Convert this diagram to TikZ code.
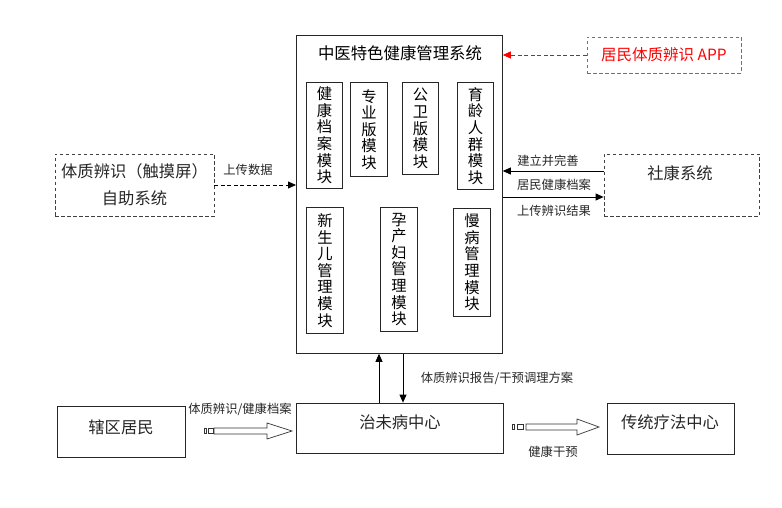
\documentclass[tikz,border=0pt]{standalone}
\usepackage{fontspec}
\newfontfamily\cjk{Noto Sans CJK SC}
\usetikzlibrary{arrows.meta,calc}
\definecolor{appred}{RGB}{240,60,60}
\begin{document}
\begin{tikzpicture}[x=1pt,y=-1pt,
  every node/.style={font=\cjk},
  box/.style={draw=black!85, line width=0.8pt, inner sep=0pt},
  dbox/.style={draw=black!75, line width=0.8pt, dash pattern=on 3.5pt off 2.5pt, inner sep=0pt},
  modbox/.style={draw=black!85, line width=0.8pt, anchor=north west, inner sep=0pt, align=center, font=\cjk\fontsize{15.3}{16.6}\selectfont},
  big/.style={font=\cjk\fontsize{16.3}{27}\selectfont, text=black!85},
  arr/.style={-{Triangle[length=8pt,width=7pt]}, line width=0.8pt},
  lbl/.style={font=\cjk\fontsize{12.3}{13}\selectfont, text=black!85},
  barr/.style={draw=black!80, line width=0.7pt, fill=white}
]
\path[use as bounding box] (0,0) rectangle (782,508);

% main system box
\node[box, minimum width=206pt, minimum height=318pt, anchor=north west] (main) at (296,35) {};
\node[font=\cjk\fontsize{16.4}{18}\selectfont] (title) at (400,53) {中医特色健康管理系统};

% modules
\node[modbox, minimum width=36pt, minimum height=106pt] (m1) at (306,82) {健\\康\\档\\案\\模\\块};
\node[modbox, minimum width=37pt, minimum height=94pt] (m2) at (350,82) {专\\业\\版\\模\\块};
\node[modbox, minimum width=36pt, minimum height=92pt] (m3) at (402,82) {公\\卫\\版\\模\\块};
\node[modbox, minimum width=36pt, minimum height=107pt] (m4) at (457,82) {育\\龄\\人\\群\\模\\块};
\node[modbox, minimum width=37pt, minimum height=126pt] (m5) at (306,207) {新\\生\\儿\\管\\理\\模\\块};
\node[modbox, minimum width=37pt, minimum height=124pt] (m6) at (380,207) {孕\\产\\妇\\管\\理\\模\\块};
\node[modbox, minimum width=37pt, minimum height=108pt] (m7) at (453,208) {慢\\病\\管\\理\\模\\块};

% APP
\node[draw=appred, line width=0.8pt, dash pattern=on 3.5pt off 2.5pt, text=red, minimum width=154pt, minimum height=36pt, font=\cjk\fontsize{15.5}{18}\selectfont] (app) at (664,55) {居民体质辨识 APP};
\draw[arr, red, dash pattern=on 4pt off 2.5pt] (app.west) -- (app.west -| main.east);

% touch screen system
\node[dbox, minimum width=159pt, minimum height=62pt, big, align=center] (touch) at (134.5,185) {体质辨识（触摸屏）\\自助系统};
\draw[arr, dash pattern=on 4pt off 2.5pt] (touch.east) -- (touch.east -| main.west);
\node[lbl] (l1) at (248,170) {上传数据};

% shekang system
\node[dbox, minimum width=155pt, minimum height=62pt] (skang) at (681.5,185) {};
\node[big] (skangt) at (680,173) {社康系统};
\draw[arr] ([yshift=14pt]skang.west) -- ([yshift=14pt]skang.west -| main.east);
\draw[arr] ([yshift=-12pt]skang.west -| main.east) -- ([yshift=-12pt]skang.west);
\node[lbl] (l2) at (548,161) {建立并完善};
\node[lbl] (l3) at (554,185) {居民健康档案};
\node[lbl] (l4) at (554,211) {上传辨识结果};

% bottom row
\node[box, minimum width=128pt, minimum height=51pt] (resid) at (121,431.5) {};
\node[big] (residt) at (121,427) {辖区居民};
\node[box, minimum width=207pt, minimum height=50pt] (zwb) at (399.5,428) {};
\node[big] (zwbt) at (400,422) {治未病中心};
\node[box, minimum width=127pt, minimum height=51pt] (ctlf) at (670.5,428.5) {};
\node[big] (ctlft) at (670,422) {传统疗法中心};

% vertical arrows
\draw[arr] ([xshift=-20.5pt]zwb.north) -- ([xshift=-20.5pt]zwb.north |- main.south);
\draw[arr] ([xshift=3.5pt]zwb.north |- main.south) -- ([xshift=3.5pt]zwb.north);
\node[lbl] (l5) at (497,378) {体质辨识报告/干预调理方案};

% striped block arrow 1
\draw[barr] (204,428.5) rectangle (206,433.5);
\draw[barr] (208,428.5) rectangle (213,433.5);
\draw[barr] (214,428) -- (267,428) -- (267,423) -- (292,431) -- (267,439) -- (267,434) -- (214,434) -- cycle;
\node[lbl] (l6) at (240,409) {体质辨识/健康档案};

% striped block arrow 2
\draw[barr] (512,424.5) rectangle (514,429.5);
\draw[barr] (517,424.5) rectangle (523,429.5);
\draw[barr] (526,424) -- (577,424) -- (577,419) -- (599,427) -- (577,435) -- (577,430) -- (526,430) -- cycle;
\node[lbl] (l7) at (553,452) {健康干预};
\end{tikzpicture}
\end{document}
